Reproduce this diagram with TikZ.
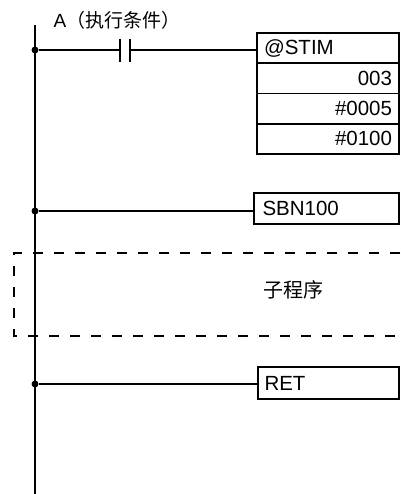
\documentclass[tikz,border=0pt]{standalone}
\usepackage{fontspec}
\setmainfont{Liberation Sans}
\newfontfamily\cjk{Noto Sans CJK SC}
\usetikzlibrary{positioning}

\tikzset{
  rail/.style={line width=1.9pt},
  rung/.style={line width=1.5pt},
  junction/.style={circle, fill, inner sep=0pt, minimum size=7pt},
  instr/.style={draw, line width=1.7pt, outer sep=0pt, inner sep=0pt,
    minimum width=142pt, minimum height=30.25pt, text width=128pt,
    font=\fontsize{20.5}{22}\selectfont},
  subbox/.style={line width=1.7pt, dash pattern=on 10pt off 11pt},
}

\begin{document}
\begin{tikzpicture}[x=1pt,y=-1pt]
\useasboundingbox (0,0) rectangle (400,494);
% power rail
\coordinate (railtop) at (35,25);
\coordinate (railbot) at (35,494);
\draw[rail] (railtop) -- (railbot);
\node[junction] (j1) at (35,50) {};
\node[junction] (j2) at (35,211) {};
\node[junction] (j3) at (35,384) {};

% execution condition
\node[font=\fontsize{19}{22}\selectfont] (cond) at (117,20) {A\cjk（执行条件）};
\coordinate (cl) at (120,50);
\coordinate (cr) at (130,50);
\draw[line width=1.7pt] ([yshift=11pt]cl) -- ([yshift=-12pt]cl)
  ([yshift=11pt]cr) -- ([yshift=-12pt]cr);

% STIM instruction
\node[instr, align=left] (stim) at (328,48.1) {@STIM};
\node[instr, align=right] (arg1) [below=0pt of stim] {003};
\node[instr, align=right] (arg2) [below=0pt of arg1] {\#0005};
\node[instr, align=right] (arg3) [below=0pt of arg2] {\#0100};
\draw[rung] (j1) -- (cl) (cr) -- (stim.west |- j1);

% subroutine
\node[instr, align=left, minimum width=145pt, minimum height=31pt] (sbn) at (326.5,208.5) {SBN100};
\draw[rung] (j2) -- (sbn.west |- j2);
\draw[subbox] (400,253) -| (14,336) -- (400,336);
\node[font=\cjk\fontsize{20}{22}\selectfont] (body) at (293,290) {子程序};
\node[instr, align=left, minimum width=141pt, minimum height=32pt] (ret) at (328.5,383) {RET};
\draw[rung] (j3) -- (ret.west |- j3);
\end{tikzpicture}
\end{document}
